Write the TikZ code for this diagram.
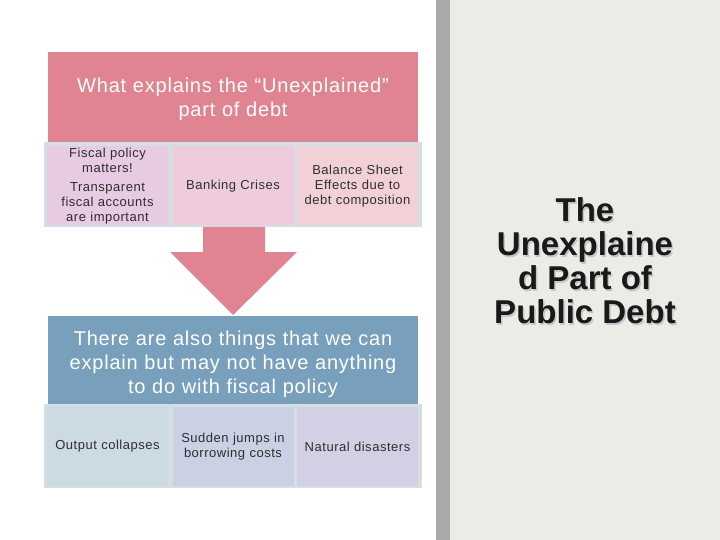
\documentclass[tikz,border=0pt]{standalone}
\usepackage{fontspec}
\setmainfont{Liberation Sans}[LetterSpace=4,WordSpace=0.9]
\newfontfamily\titlefont{Liberation Sans}
\definecolor{headpink}{HTML}{E08491}
\definecolor{headblue}{HTML}{789FBC}
\definecolor{rowframe}{HTML}{D6DDE3}
\definecolor{panelgray}{HTML}{EDEBE5}
\definecolor{stripegray}{HTML}{A9A9A7}
\definecolor{boxtext}{HTML}{2E2E2E}
\definecolor{pinkA}{HTML}{E7CBE2}
\definecolor{pinkB}{HTML}{EECCDD}
\definecolor{pinkC}{HTML}{F2D0D8}
\definecolor{blueA}{HTML}{CCDAE3}
\definecolor{blueB}{HTML}{CBD1E4}
\definecolor{blueC}{HTML}{D3D0E6}
\tikzset{
  header/.style={minimum width=370pt,text width=366pt,align=center,text=white,inner sep=0pt,
    font=\fontsize{20}{24}\selectfont},
  cell/.style={minimum width=121pt,minimum height=79pt,text width=116pt,align=center,inner sep=0pt,
    text=boxtext,font=\fontsize{13}{15}\selectfont},
  bigtitle/.style={align=center,font=\titlefont\bfseries\fontsize{33}{34}\selectfont},
}
\begin{document}
\begin{tikzpicture}[x=1pt,y=-1pt]
\useasboundingbox (0,0) rectangle (720,540);
% right panel
\fill[stripegray] (436,0) rectangle (450,540);
\fill[panelgray] (450,0) rectangle (720,540);
\node[bigtitle,text=gray!45] (titleshadow) at (586.5,262.5) {The\\Unexplaine\\d Part of\\Public Debt};
\node[bigtitle,text=black!90] (title) at (585,261) {The\\Unexplaine\\d Part of\\Public Debt};
% top block
\fill[headpink] (48,52) rectangle (418,142);
\node[header] (explainhead) at (233,99) {What explains the “Unexplained”\\part of debt};
\fill[rowframe] (44,142) rectangle (422,227);
\node[cell,fill=pinkA] (fiscal) at (107.5,186)
  {Fiscal policy\\matters!\\[4pt]Transparent\\fiscal accounts\\are important};
\node[cell,fill=pinkB] (banking) at (233,186) {Banking Crises};
\node[cell,fill=pinkC] (balance) at (357.5,186) {Balance Sheet\\Effects due to\\debt composition};
% arrow
\fill[headpink] (203,227) -- (265,227) -- (265,252) -- (297,252) -- (233,315) -- (170,252) -- (203,252) -- cycle;
% bottom block
\fill[headblue] (48,316) rectangle (418,404);
\node[header] (fiscalhead) at (233,364) {There are also things that we can\\explain but may not have anything\\to do with fiscal policy};
\fill[rowframe] (44,404) rectangle (422,488);
\node[cell,fill=blueA] (output) at (107.5,446.5) {Output collapses};
\node[cell,fill=blueB] (sudden) at (233,446.5) {Sudden jumps in\\borrowing costs};
\node[cell,fill=blueC] (natural) at (357.5,446.5) {Natural disasters};
\end{tikzpicture}
\end{document}
